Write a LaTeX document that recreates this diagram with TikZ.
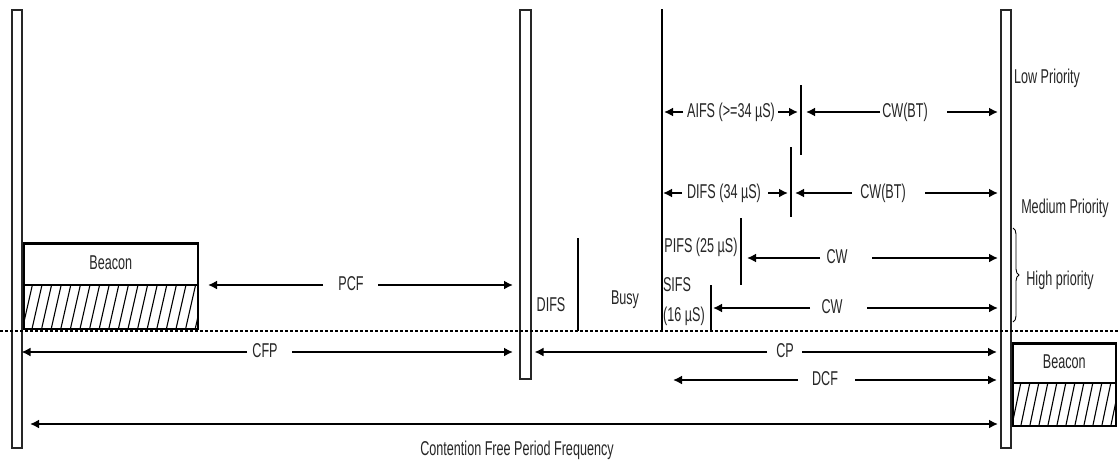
\documentclass[tikz,border=0pt]{standalone}
\usepackage{fontspec}
\setmainfont{Liberation Sans}[FakeStretch=0.63]
\usetikzlibrary{arrows.meta,decorations.pathreplacing,calc}
\begin{document}
\begin{tikzpicture}[x=1pt,y=-1pt,
  bar/.style={draw=black!85,line width=1.5pt,fill=white,inner sep=0pt,anchor=north west},
  box/.style={draw=black,line width=1.6pt,inner sep=0pt,anchor=north west},
  lbl/.style={font=\fontsize{20}{22}\selectfont,text=black!85,inner sep=0pt,text height=14.4pt,text depth=4.4pt},
  arr/.style={line width=1.8pt,-{Latex[length=9pt,width=9pt]}},
  darr/.style={line width=1.8pt,{Latex[length=9pt,width=9pt]}-{Latex[length=9pt,width=9pt]}},
  sep/.style={line width=1.1pt},
  hatch/.style={line width=1.1pt}
]
\useasboundingbox[fill=white] (0,0) rectangle (1119,467);

% vertical bars
\node[bar,minimum width=10pt,minimum height=438pt] (bar1) at (11,9) {};
\node[bar,minimum width=11pt,minimum height=369pt] (bar2) at (519,9) {};
\node[bar,minimum width=10pt,minimum height=438pt] (bar3) at (1000,9) {};

% thin vertical lines
\coordinate (vtop) at (662,9);   \coordinate (vbot) at (662,331);
\coordinate (sAt) at (801,85);   \coordinate (sAb) at (801,155);
\coordinate (sBt) at (791,147);  \coordinate (sBb) at (791,217);
\coordinate (sPt) at (741,218);  \coordinate (sPb) at (741,285);
\coordinate (sSt) at (711,285);  \coordinate (sSb) at (711,331);
\coordinate (sYt) at (578,238);  \coordinate (sYb) at (578,331);
\draw[sep] (vtop) -- (vbot);
\draw[sep] (sAt) -- (sAb);
\draw[sep] (sBt) -- (sBb);
\draw[sep] (sPt) -- (sPb);
\draw[sep] (sSt) -- (sSb);
\draw[sep] (sYt) -- (sYb);

% left beacon
\node[box,minimum width=174pt,minimum height=41pt] (bcn1) at (23,243) {};
\node[lbl] (bcn1t) at (bcn1.center) {Beacon};
\node[box,minimum width=174pt,minimum height=44pt] (hat1) at (23,284) {};
\draw[line width=3pt] (bcn1.north west) -- (bcn1.north east);
\begin{scope}
  \clip (hat1.south west) rectangle (hat1.north east);
  \foreach \x in {13,22.6,...,205} \draw[hatch] (\x,328) -- ++(10,-44);
\end{scope}

% right beacon
\node[box,minimum width=103pt,minimum height=39pt] (bcn2) at (1012,343) {};
\node[lbl] (bcn2t) at (bcn2.center) {Beacon};
\node[box,minimum width=103pt,minimum height=43pt] (hat2) at (1012,382) {};
\draw[line width=3pt] (bcn2.north west) -- (bcn2.north east);
\begin{scope}
  \clip (hat2.south west) rectangle (hat2.north east);
  \foreach \x in {1003,1012,...,1125} \draw[hatch] (\x,425) -- ++(9,-43);
\end{scope}

% dashed separator
\coordinate (dl) at (0,331); \coordinate (dr) at (1119,331);
\draw[line width=1.5pt,dash pattern=on 3pt off 2pt] (dl) -- (dr);

% labels
\node[lbl] (aifs) at (731,112) {AIFS (>=34 µS)};
\node[lbl] (cwa) at (905,112) {CW(BT)};
\node[lbl] (difs) at (724,193) {DIFS (34 µS)};
\node[lbl] (cwb) at (883,193) {CW(BT)};
\node[lbl] (pifs) at (701,247) {PIFS (25 µS)};
\node[lbl] (cwc) at (837,258) {CW};
\node[lbl] (sifs) at (677,286) {SIFS};
\node[lbl] (sifs2) at (684,316) {(16 µS)};
\node[lbl] (cwd) at (832,308) {CW};
\node[lbl] (difsb) at (551,306) {DIFS};
\node[lbl] (busy) at (625,299) {Busy};
\node[lbl] (pcf) at (351,285) {PCF};
\node[lbl] (cfp) at (265,352) {CFP};
\node[lbl] (cp) at (785,352) {CP};
\node[lbl] (dcf) at (825,380) {DCF};
\node[lbl] (cfpf) at (517,450) {Contention Free Period Frequency};
\node[lbl] (low) at (1047,78) {Low Priority};
\node[lbl] (med) at (1065,208) {Medium Priority};
\node[lbl] (high) at (1060,280) {High priority};

% brace
\coordinate (brt) at (1013,228); \coordinate (brb) at (1013,322);
\draw[line width=0.9pt,decorate,decoration={brace,amplitude=6pt}] (brt) -- (brb);

% arrows
\draw[arr] ($(aifs)+(-48,0)$) -- ($(aifs -| vtop)+(2,0)$);
\draw[arr] ($(aifs)+(47,0)$) -- ($(aifs -| sAt)+(-3,0)$);
\draw[arr] ($(cwa)+(-25,0)$) -- ($(cwa -| sAt)+(5,0)$);
\draw[arr] ($(cwa)+(42,0)$) -- ($(cwa -| bar3.west)+(-2,0)$);

\draw[arr] ($(difs)+(-42,0)$) -- ($(difs -| vtop)+(1,0)$);
\draw[arr] ($(difs)+(44,0)$) -- ($(difs -| sBt)+(-3,0)$);
\draw[arr] ($(cwb)+(-31,0)$) -- ($(cwb -| sBt)+(4,0)$);
\draw[arr] ($(cwb)+(42,0)$) -- ($(cwb -| bar3.west)+(-2,0)$);

\draw[arr] ($(cwc)+(-17,0)$) -- ($(cwc -| sPt)+(6,0)$);
\draw[arr] ($(cwc)+(35,0)$) -- ($(cwc -| bar3.west)+(-2,0)$);

\draw[arr] ($(cwd)+(-22,0)$) -- ($(cwd -| sSt)+(2,0)$);
\draw[arr] ($(cwd)+(35,0)$) -- ($(cwd -| bar3.west)+(-2,0)$);

\coordinate (pcfL) at (208,285);
\draw[arr] ($(pcf)+(-28,0)$) -- (pcfL);
\draw[arr] ($(pcf)+(27,0)$) -- ($(pcf -| bar2.west)+(-6,0)$);

\draw[arr] ($(cfp)+(-18,0)$) -- ($(cfp -| bar1.east)+(-1,0)$);
\draw[arr] ($(cfp)+(27,0)$) -- ($(cfp -| bar2.west)+(-6,0)$);

\draw[arr] ($(cp)+(-18,0)$) -- ($(cp -| bar2.east)+(3,0)$);
\draw[arr] ($(cp)+(17,0)$) -- ($(cp -| bar3.west)+(-3,0)$);

\coordinate (dcfL) at (673,380);
\draw[arr] ($(dcf)+(-27,0)$) -- (dcfL);
\draw[arr] ($(dcf)+(30,0)$) -- ($(dcf -| bar3.west)+(-3,0)$);

\coordinate (botL) at (30,424);
\draw[darr] (botL) -- ($(botL -| bar3.west)+(-2,0)$);
\end{tikzpicture}
\end{document}
